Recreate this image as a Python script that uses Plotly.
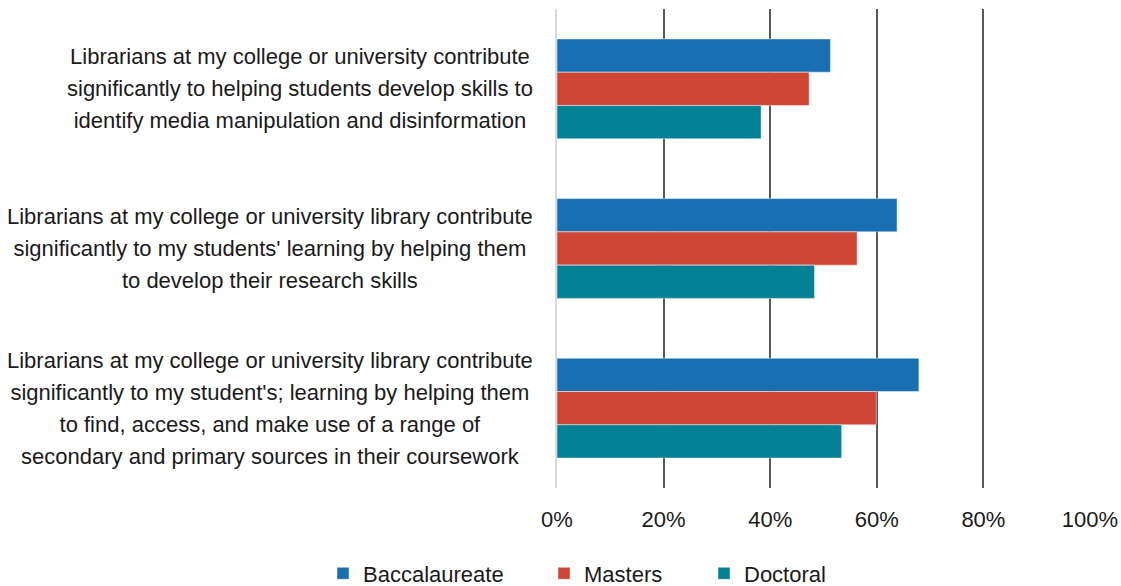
import plotly.graph_objects as go

# Survey statements (top to bottom), one list entry per line of text
statements = [
    ["Librarians at my college or university contribute",
     "significantly to helping students develop skills to",
     "identify media manipulation and disinformation"],
    ["Librarians at my college or university library contribute",
     "significantly to my students' learning by helping them",
     "to develop their research skills"],
    ["Librarians at my college or university library contribute",
     "significantly to my student's; learning by helping them",
     "to find, access, and make use of a range of",
     "secondary and primary sources in their coursework"],
]
categories = [" ".join(lines) for lines in statements]

# Share agreeing, by institution type
baccalaureate = [0.513, 0.638, 0.679]
masters = [0.473, 0.563, 0.599]
doctoral = [0.383, 0.483, 0.534]

series_names = ["Baccalaureate", "Masters", "Doctoral"]
series_values = [baccalaureate, masters, doctoral]
series_colors = ["#1a6fb2", "#cf4637", "#038194"]

tick_vals = [0, 0.2, 0.4, 0.6, 0.8, 1.0]
tick_text = ["0%", "20%", "40%", "60%", "80%", "100%"]

FONT = "Liberation Sans, Arial, sans-serif"
TEXT = "#1a1a1a"

fig = go.Figure()
legend_ids = ["legend", "legend2", "legend3"]
for name, vals, color, lg in zip(series_names, series_values, series_colors, legend_ids):
    fig.add_trace(go.Bar(
        y=categories, x=vals, name=name, orientation="h", legend=lg,
        marker=dict(color=color, line=dict(color="rgba(255,255,255,0.45)", width=1)),
    ))

# Centred multi-line category labels; outer size sets the line pitch,
# inner span sets the glyph size
for cat, lines in zip(categories, statements):
    body = "<br>".join(f"<span style='font-size:22px'>{ln}</span>" for ln in lines)
    fig.add_annotation(
        x=0, xref="paper", xanchor="right", xshift=-22,
        y=cat, yref="y", yanchor="middle",
        text=body, showarrow=False, align="center",
        font=dict(family=FONT, size=24.6, color=TEXT),
    )

legend_style = dict(
    orientation="h", xref="container", yref="container",
    xanchor="left", yanchor="middle", y=1 - 573.5 / 586,
    font=dict(family=FONT, size=22, color=TEXT),
    itemwidth=30, bgcolor="rgba(0,0,0,0)",
)

fig.update_layout(
    width=1121, height=586,
    margin=dict(l=557, r=31, t=9, b=98, autoexpand=False),
    paper_bgcolor="white", plot_bgcolor="white",
    barmode="group", bargap=0.375, bargroupgap=0,
    font=dict(family=FONT, size=22, color=TEXT),
    xaxis=dict(
        range=[0, 1.0], tickvals=tick_vals, ticktext=tick_text,
        showgrid=True, gridcolor="#595959", gridwidth=2,
        zeroline=False, showline=False, ticks="",
        ticklabelstandoff=16,
        tickfont=dict(family=FONT, size=22, color=TEXT),
    ),
    yaxis=dict(
        autorange="reversed", showticklabels=False, ticks="",
        showline=True, linecolor="#d9d9d9", linewidth=2,
        showgrid=False, zeroline=False,
    ),
    legend=dict(legend_style, x=323 / 1121),
    legend2=dict(legend_style, x=544 / 1121),
    legend3=dict(legend_style, x=704 / 1121),
    showlegend=True,
)

fig.write_html("out.html")
